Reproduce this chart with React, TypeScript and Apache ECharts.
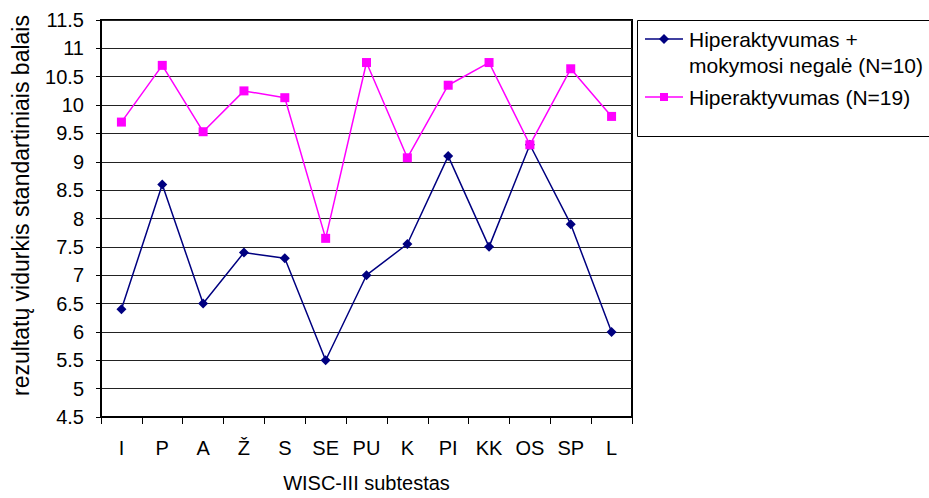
import React, { useEffect, useRef } from "react";
import * as echarts from "echarts";

const categories = ["I", "P", "A", "Ž", "S", "SE", "PU", "K", "PI", "KK", "OS", "SP", "L"];
const seriesNames = ["Hiperaktyvumas +\nmokymosi negalė (N=10)", "Hiperaktyvumas (N=19)"];
const withLD = [6.4, 8.6, 6.5, 7.4, 7.3, 5.5, 7.0, 7.55, 9.1, 7.5, 9.3, 7.9, 6.0];
const adhdOnly = [9.7, 10.7, 9.53, 10.25, 10.13, 7.65, 10.75, 9.07, 10.35, 10.75, 9.3, 10.64, 9.8];
const xAxisTitle = "WISC-III subtestas";
const yAxisTitle = "rezultatų vidurkis standartiniais balais";

const FONT = "'Liberation Sans', Arial, sans-serif";
const NAVY = "#000080";
const MAGENTA = "#FF00FF";

export default function App() {
  const ref = useRef<HTMLDivElement>(null);
  useEffect(() => {
    if (!ref.current) return;
    const chart = echarts.init(ref.current, null, { renderer: "svg" });
    const lines1 = seriesNames[0].split("\n");
    chart.setOption({
      animation: false,
      backgroundColor: "#fff",
      textStyle: { fontFamily: FONT },
      grid: {
        left: 101,
        top: 20,
        right: 297,
        bottom: 78,
        show: true,
        borderColor: "#000",
        borderWidth: 2,
      },
      xAxis: {
        type: "category",
        data: categories,
        boundaryGap: true,
        name: xAxisTitle,
        nameLocation: "middle",
        nameGap: 56,
        nameTextStyle: { fontSize: 20, color: "#000", fontFamily: FONT },
        axisLine: { lineStyle: { color: "#000", width: 2 } },
        axisTick: { show: true, length: 7, lineStyle: { color: "#000", width: 1 } },
        axisLabel: { fontSize: 20, color: "#000", margin: 21, fontFamily: FONT },
      },
      yAxis: {
        type: "value",
        min: 4.5,
        max: 11.5,
        interval: 0.5,
        axisLine: { show: true, lineStyle: { color: "#000", width: 2 } },
        axisTick: { show: true, length: 5, lineStyle: { color: "#000", width: 1 } },
        axisLabel: { fontSize: 20, color: "#000", margin: 17, fontFamily: FONT },
        splitLine: { show: true, lineStyle: { color: "#222", width: 1 } },
      },
      series: [
        {
          name: seriesNames[0],
          type: "line",
          data: withLD,
          symbol: "diamond",
          symbolSize: 10,
          lineStyle: { color: NAVY, width: 1.5 },
          itemStyle: { color: NAVY },
        },
        {
          name: seriesNames[1],
          type: "line",
          data: adhdOnly,
          symbol: "rect",
          symbolSize: 9,
          lineStyle: { color: MAGENTA, width: 1.5 },
          itemStyle: { color: MAGENTA },
        },
      ],
      graphic: [
        {
          type: "text",
          x: 21,
          y: 396,
          rotation: Math.PI / 2,
          style: {
            text: yAxisTitle,
            fontSize: 23,
            fontFamily: FONT,
            fill: "#000",
            align: "left",
            verticalAlign: "middle",
          },
        },
        {
          type: "rect",
          shape: { x: 637.5, y: 20.5, width: 300, height: 116 },
          style: { fill: "#fff", stroke: "#000", lineWidth: 1 },
        },
        { type: "line", shape: { x1: 645, y1: 39, x2: 683, y2: 39 }, style: { stroke: NAVY, lineWidth: 1.5 } },
        {
          type: "polygon",
          shape: { points: [[664, 34], [669, 39], [664, 44], [659, 39]] },
          style: { fill: NAVY },
        },
        {
          type: "text",
          x: 689,
          y: 39,
          style: { text: lines1[0], fontSize: 21, fontFamily: FONT, fill: "#000", verticalAlign: "middle" },
        },
        {
          type: "text",
          x: 689,
          y: 65,
          style: { text: lines1[1], fontSize: 21, fontFamily: FONT, fill: "#000", verticalAlign: "middle" },
        },
        { type: "line", shape: { x1: 645, y1: 97, x2: 683, y2: 97 }, style: { stroke: MAGENTA, lineWidth: 1.5 } },
        { type: "rect", shape: { x: 660, y: 93, width: 8, height: 8 }, style: { fill: MAGENTA } },
        {
          type: "text",
          x: 689,
          y: 97,
          style: { text: seriesNames[1], fontSize: 21, fontFamily: FONT, fill: "#000", verticalAlign: "middle" },
        },
      ],
    });
    return () => chart.dispose();
  }, []);
  return <div ref={ref} style={{ width: 929, height: 498, position: "absolute", left: 0, top: 0 }} />;
}
